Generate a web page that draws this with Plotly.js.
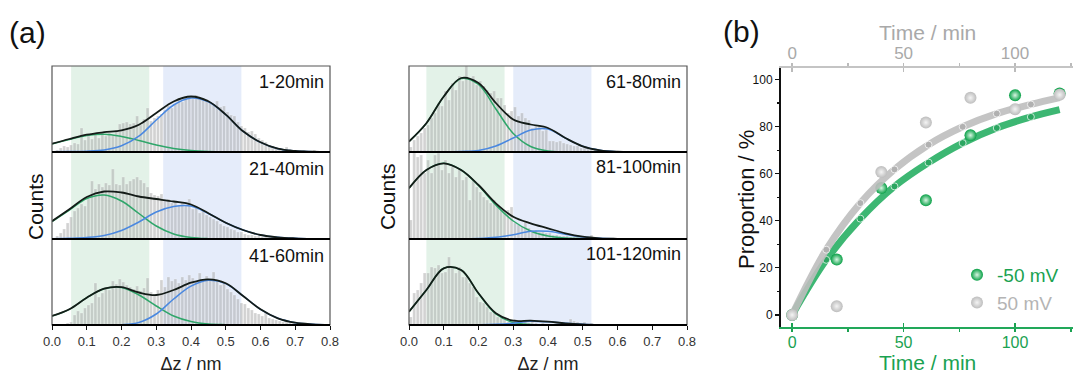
<!DOCTYPE html>
<html><head><meta charset="utf-8">
<script src="https://cdn.plot.ly/plotly-3.0.1.min.js"></script>
<style>html,body{margin:0;padding:0;background:#fff}#chart{width:1075px;height:374px}</style>
</head><body><div id="chart"></div>
<script>
// ---------- Panel (a): histogram counts, bins of 0.01 nm from 0 to 0.8 ----------
const panelLabels = ['1-20min','21-40min','41-60min','61-80min','81-100min','101-120min'];
const counts_1_20 = [0,2,4,6,5,7,9,8,24,12, 16,13,18,14,20,16,19,17,22,28, 29,30,28,29,36,27,33,44,31,34,
  36,38,42,46,44,48,54,50,56,55, 53,57,54,52,53,50,47,51,45,46, 40,37,36,30,26,24,20,21,18,14,
  12,10,7,6,5,4,3,5,3,2, 2,1,2,1,1,2,1,0,0,0];
const counts_21_40 = [1,3,6,10,16,22,28,31,35,33, 40,58,50,55,52,56,54,70,55,54, 62,55,58,60,62,59,56,52,46,44,
  43,45,38,40,36,38,34,37,33,40, 30,31,26,28,24,22,20,18,15,13, 12,10,9,7,7,5,4,4,3,3,
  2,2,1,2,1,1,1,0,1,0, 0,0,0,0,0,0,0,0,0,0];
const counts_41_60 = [0,0,1,1,2,3,10,14,12,17, 20,22,42,28,32,38,35,44,41,46, 43,40,38,36,39,34,37,47,33,31,
  35,45,38,48,44,46,42,48,45,50, 47,44,52,46,49,45,53,44,40,42, 36,33,30,26,22,21,17,15,12,11,
  9,12,7,6,5,4,3,3,2,2, 1,2,1,0,1,0,0,0,0,0];
const counts_61_80 = [5,12,16,19,24,27,34,39,49,46, 61,52,69,62,76,71,86,72,76,67, 71,66,62,59,61,54,54,47,39,41,
  45,36,39,34,32,24,26,27,21,22, 11,11,10,11,9,8,7,6,6,4, 4,3,3,2,1,2,1,1,0,0,
  0,0,0,0,0,0,0,0,0,0, 0,0,0,0,0,0,0,0,0,0];
const counts_81_100 = [19,86,82,84,66,79,66,84,86,69, 79,66,72,62,69,59,62,39,59,52, 47,42,39,36,39,34,29,26,29,32,
  16,14,12,17,11,9,9,7,7,6, 6,4,4,3,3,3,2,2,2,2, 1,1,4,1,1,0,1,0,0,0,
  0,0,0,0,0,0,0,0,0,0, 0,0,0,0,0,0,0,0,0,0];
const counts_101_120 = [8,32,35,42,52,52,58,57,60,52, 53,68,58,52,58,48,48,42,38,28, 23,22,18,13,12,8,7,5,3,2,
  6,4,2,3,2,3,2,1,2,1, 1,1,1,1,2,1,6,4,3,1, 3,1,2,1,0,1,0,0,1,0,
  1,0,0,0,0,0,0,0,0,0, 0,0,0,0,0,0,0,0,0,0];

// Gaussian fit components, read every 0.05 nm from 0 to 0.8
const fitGreen_1_20 = [8,12.5,16.5,17.8,15.5,11.5,7,3.5,1.5,0.5,0.1,0,0,0,0,0,0];
const fitBlue_1_20  = [0.3,0.5,0.8,2,6.2,15.8,32,47,54,50.2,37.3,20.7,9.7,3.3,1,0.3,0];
const fitGreen_21_40 = [17.5,29,40.5,44,38,25.5,13,5,1.5,0.3,0,0,0,0,0,0,0];
const fitBlue_21_40  = [0.3,0.7,1.5,3.5,8.5,17,27,32.5,33,25.5,16.3,9,4,1.7,0.7,0.2,0];
const fitGreen_41_60 = [9,15.7,27.3,36.2,37.5,30,19,9,3.5,1,0.3,0,0,0,0,0,0];
const fitBlue_41_60  = [0,0,0,0.1,0.3,2.5,11,26,38.8,44.7,41.4,29,15.7,6.7,2.3,0.7,0];
const fitGreen_61_80 = [10.5,28.8,55.5,73.5,67.5,43,18.5,5.5,1,0.2,0,0,0,0,0,0,0];
const fitBlue_61_80  = [0,0,0,0.5,1.5,6,14,22,23,13.8,5.7,1.7,0.3,0,0,0,0];
const fitGreen_81_100 = [50.7,69,75.7,69,53.5,34,18,8,3,1,0.3,0,0,0,0,0,0];
const fitBlue_81_100  = [0,0,0,0,0.5,1.7,4.3,7.7,7.7,4.7,2,0.7,0.2,0,0,0,0];
const fitGreen_101_120 = [13.3,35,56.7,55,31.5,11,2.5,0.5,0.1,0,0,0,0,0,0,0,0];
const fitBlue_101_120  = [0,0,0,0,0.2,0.7,1.8,3.8,3.2,1.7,0.7,0.2,0,0,0,0,0];

const xTickVals = [0,0.1,0.2,0.3,0.4,0.5,0.6,0.7,0.8];

// ---------- Panel (b): proportion vs time ----------
const timeNeg = [0,20,40,60,80,100,120];
const propNeg = [0,23.5,53.9,48.7,76.3,93.3,94];
const timePos = [0,20,40,60,80,100,120];
const propPos = [0,3.7,60.7,81.7,92.2,87.4,93.5];
const fitTimeNeg = [0,15.3,30.6,45.9,61.2,76.5,91.8,107.1,120];
const fitPropNeg = [0,23.4,40.9,54.6,64.7,73,79.4,84.1,87.2];
const fitTimePos = [0,15.3,30.6,45.9,61.2,76.5,91.8,107.1,120];
const fitPropPos = [0,27.7,47.5,61.8,72.3,79.9,85.5,89.4,92.3];

// ---------- helpers ----------
const W = 1075, H = 374;
const px = v => v / W, py = v => 1 - v / H;
const GREEN_TXT = '#1aa251', GRAY_TXT = '#a9a9a9';
const FONT = 'Liberation Sans, Arial, Helvetica, sans-serif';

const traces = [];
function histPanel(counts, g, b, xa, ya) {
  traces.push({type:'bar', x0:0.005, dx:0.01, y:counts, width:0.0082, xaxis:xa, yaxis:ya,
    marker:{color:'rgba(165,165,165,0.5)', line:{color:'rgba(255,255,255,0.55)', width:0.4}},
    hoverinfo:'skip', showlegend:false});
  const tot = g.map((v,i)=>v+b[i]);
  const common = {type:'scatter', mode:'lines', x0:0, dx:0.05, xaxis:xa, yaxis:ya, showlegend:false, hoverinfo:'skip'};
  traces.push(Object.assign({}, common, {y:g, line:{color:'#2fa66a', width:1.5, shape:'spline', smoothing:1}}));
  traces.push(Object.assign({}, common, {y:b, line:{color:'#4a88e0', width:1.5, shape:'spline', smoothing:1}}));
  traces.push(Object.assign({}, common, {y:tot, line:{color:'#141c18', width:1.8, shape:'spline', smoothing:1}}));
}
histPanel(counts_1_20, fitGreen_1_20, fitBlue_1_20, 'x', 'y');
histPanel(counts_21_40, fitGreen_21_40, fitBlue_21_40, 'x', 'y2');
histPanel(counts_41_60, fitGreen_41_60, fitBlue_41_60, 'x', 'y3');
histPanel(counts_61_80, fitGreen_61_80, fitBlue_61_80, 'x2', 'y4');
histPanel(counts_81_100, fitGreen_81_100, fitBlue_81_100, 'x2', 'y5');
histPanel(counts_101_120, fitGreen_101_120, fitBlue_101_120, 'x2', 'y6');

// panel b traces
traces.push({type:'scatter', mode:'lines', x:fitTimePos, y:fitPropPos, xaxis:'x4', yaxis:'y7',
  line:{color:'rgba(190,190,190,0.9)', width:7, shape:'spline'}, showlegend:false, hoverinfo:'skip'});
traces.push({type:'scatter', mode:'markers', x:fitTimePos, y:fitPropPos, xaxis:'x4', yaxis:'y7',
  marker:{color:'rgba(150,150,150,0.55)', size:[0,7,7,7,7,7,7,7,0]}, showlegend:false, hoverinfo:'skip'});
traces.push({type:'scatter', mode:'lines', x:fitTimeNeg, y:fitPropNeg, xaxis:'x3', yaxis:'y7',
  line:{color:'rgba(40,175,100,0.9)', width:7, shape:'spline'}, showlegend:false, hoverinfo:'skip'});
traces.push({type:'scatter', mode:'markers', x:fitTimeNeg, y:fitPropNeg, xaxis:'x3', yaxis:'y7',
  marker:{color:'rgba(20,140,70,0.55)', size:[0,7,7,7,7,7,7,7,0]}, showlegend:false, hoverinfo:'skip'});
traces.push({type:'scatter', mode:'markers', x:timePos, y:propPos, xaxis:'x4', yaxis:'y7',
  name:'<span style="color:#b4b4b4">50 mV</span>', legendrank:2,
  marker:{color:'#bdbdbd', size:12, gradient:{type:'radial', color:'#f4f4f4'}}});
traces.push({type:'scatter', mode:'markers', x:timeNeg, y:propNeg, xaxis:'x3', yaxis:'y7',
  name:'<span style="color:'+GREEN_TXT+'">-50 mV</span>', legendrank:1,
  marker:{color:'#08a046', size:12, gradient:{type:'radial', color:'#d8f5e2'}}});

// ---------- layout ----------
const yB = [py(66), py(152), py(239), py(325)];
const LX = [px(52), px(330)], RX = [px(409), px(687)], BX = [px(781), px(1073)];
function histX(dom, anchor) {
  return {domain:dom, anchor:anchor, range:[0,0.8], tickvals:xTickVals, ticktext:xTickVals.map(v=>v.toFixed(1)),
    ticks:'outside', ticklen:4, tickcolor:'#111', showline:false, showgrid:false, zeroline:false,
    tickfont:{size:13, color:'#333'}, title:{text:'Δz / nm', font:{size:18, color:'#222'}, standoff:12}};
}
function histY(dom, anchor, top) {
  return {domain:dom, anchor:anchor, range:[0,top], showticklabels:false, ticks:'', showgrid:false, zeroline:false, showline:false};
}
const layout = {
  width:W, height:H, margin:{l:0,r:0,t:0,b:0}, paper_bgcolor:'#fff', plot_bgcolor:'rgba(0,0,0,0)',
  font:{family:FONT, color:'#111'}, bargap:0, barmode:'overlay',
  xaxis: histX(LX, 'y3'),
  yaxis: histY([yB[1], yB[0]], 'x', 86),
  yaxis2: histY([yB[2], yB[1]], 'x', 87),
  yaxis3: histY([yB[3], yB[2]], 'x', 86),
  xaxis2: histX(RX, 'y6'),
  yaxis4: histY([yB[1], yB[0]], 'x2', 86),
  yaxis5: histY([yB[2], yB[1]], 'x2', 87),
  yaxis6: histY([yB[3], yB[2]], 'x2', 86),
  xaxis3: {domain:BX, anchor:'y7', range:[-5,126], tick0:0, dtick:50, ticks:'inside', ticklen:4, tickwidth:1.5,
    tickcolor:GREEN_TXT, showline:true, linecolor:'#22a85a', linewidth:2, showgrid:false, zeroline:false,
    tickfont:{size:16, color:GREEN_TXT}, minor:{dtick:25, ticks:'outside', ticklen:3, tickcolor:GREEN_TXT}},
  xaxis4: {overlaying:'x3', side:'top', anchor:'y7', range:[-5,126], tick0:0, dtick:50, ticks:'inside', ticklen:4, tickwidth:1.5,
    tickcolor:'#bbb', showline:true, linecolor:'#c4c4c4', linewidth:2, showgrid:false, zeroline:false,
    tickfont:{size:17, color:GRAY_TXT}, minor:{dtick:25, ticks:'outside', ticklen:3, tickcolor:'#bbb'}},
  yaxis7: {domain:[py(326.7), py(67.7)], anchor:'x3', range:[-5,105], tick0:0, dtick:20, ticks:'outside', ticklen:4, tickwidth:1.2,
    tickcolor:'#111', showline:true, linecolor:'#111', linewidth:2, showgrid:false, zeroline:false,
    tickfont:{size:12, color:'#111'}, minor:{dtick:10, ticks:'outside', ticklen:2.5, tickcolor:'#111'}},
  showlegend:true,
  legend:{x:px(957), y:py(256), xanchor:'left', yanchor:'top', bgcolor:'rgba(0,0,0,0)', font:{size:19}, itemwidth:30, tracegroupgap:0},
  shapes:[], annotations:[]
};
// bands
[['x',0.055,0.28,0.32,0.545],['x2',0.05,0.275,0.30,0.525]].forEach(([xr,g0,g1,b0,b1])=>{
  layout.shapes.push({type:'rect', xref:xr, yref:'paper', x0:g0, x1:g1, y0:yB[3], y1:yB[0], fillcolor:'#e3f2e8', line:{width:0}, layer:'below'});
  layout.shapes.push({type:'rect', xref:xr, yref:'paper', x0:b0, x1:b1, y0:yB[3], y1:yB[0], fillcolor:'#e5ecfa', line:{width:0}, layer:'below'});
});
// frames and baselines
[LX, RX].forEach(d=>{
  layout.shapes.push({type:'rect', xref:'paper', yref:'paper', x0:d[0], x1:d[1], y0:yB[3], y1:yB[0], line:{color:'#555', width:1.2}});
  [1,2,3].forEach(k=>layout.shapes.push({type:'line', xref:'paper', yref:'paper', x0:d[0], x1:d[1], y0:yB[k], y1:yB[k], line:{color:'#000', width:2.2}}));
});
// panel labels
const labelPos = [[326,82],[326,169],[326,256],[683,82],[683,167],[683,254]];
panelLabels.forEach((t,i)=>layout.annotations.push({text:t, xref:'paper', yref:'paper', x:px(labelPos[i][0]), y:py(labelPos[i][1]),
  xanchor:'right', yanchor:'middle', showarrow:false, font:{size:18, color:'#111'}}));
const ann = (text, x, y, size, color, angle) => layout.annotations.push({text, xref:'paper', yref:'paper', x:px(x), y:py(y),
  textangle:angle||0, xanchor:'center', yanchor:'middle', showarrow:false, font:{size, color:color||'#111'}});
ann('Counts', 35, 207, 21, '#111', -90);
ann('Counts', 387, 197, 21, '#111', -90);
ann('(a)', 27, 32, 30);
ann('(b)', 741, 31, 30);
ann('Time / min', 927, 32, 21, GRAY_TXT);
ann('Time / min', 927, 362, 21, GREEN_TXT);
ann('Proportion / %', 746, 200, 22, '#111', -90);

Plotly.newPlot('chart', traces, layout, {staticPlot:true, displayModeBar:false});
</script></body></html>
